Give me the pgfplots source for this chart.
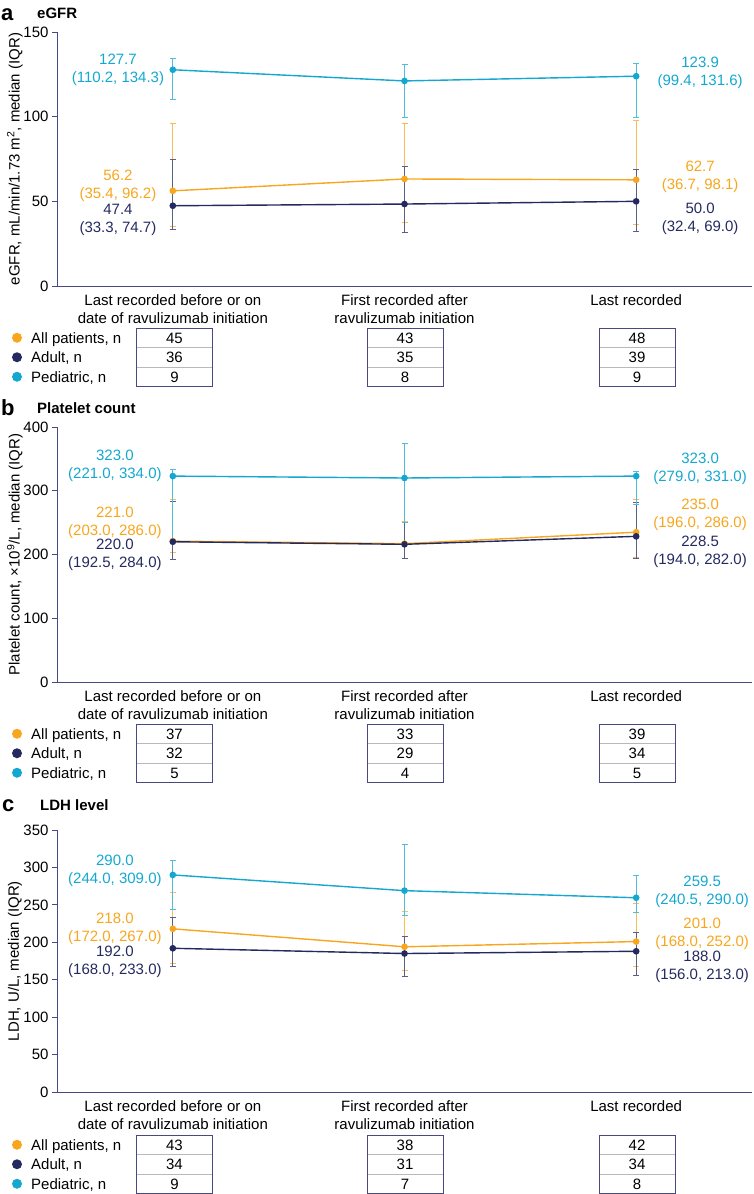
\documentclass[border=0pt]{standalone}
\usepackage{pgfplots}
\pgfplotsset{compat=1.18}
\usepackage{fontspec}
\setmainfont{Liberation Sans}
\definecolor{cOr}{RGB}{247,166,30}
\definecolor{cNv}{RGB}{36,42,96}
\definecolor{cCy}{RGB}{20,168,208}
\definecolor{axc}{RGB}{72,72,130}
\newcommand{\fs}{\fontsize{15}{18}\selectfont}

\tikzset{lab/.style={align=center, font=\fs, inner sep=0pt, text=#1}}
\pgfplotsset{
 panel/.style={
  scale only axis, width=695pt, xmin=-0.5, xmax=2.5, ymin=0, clip=false,
  axis lines=left, axis line style={-, draw=axc, line width=0.8pt},
  xtick={0,1,2},
  xticklabels={{Last recorded before or on\\date of ravulizumab initiation},{First recorded after\\ravulizumab initiation},{Last recorded}},
  xticklabel style={align=center, font=\fs, text=black},
  xtick style={draw=none},
  yticklabel style={font=\fs},
  ytick style={draw=axc, line width=0.8pt},
  tick align=outside, major tick length=5pt,
  /pgf/number format/assume math mode=true,
  ylabel style={font=\fs, at={(axis description cs:-0.0605,0.5)}, anchor=center},
 },
 ser/.style={color=#1, line width=1.4pt, mark=*, mark size=2.6pt, mark options={solid, fill=#1},
   error bars/y dir=both, error bars/y explicit,
   error bars/error mark=-,
   error bars/error bar style={draw=#1!75, line width=0.7pt},
   error bars/error mark options={rotate=90, draw=#1!75, line width=0.7pt, mark size=3pt}},
 table/errtab/.style={x=x, y=med, y error plus expr=\thisrow{q3}-\thisrow{med}, y error minus expr=\thisrow{med}-\thisrow{q1}, row sep=\\},
}

\newcommand{\ntab}[2]{%
\begin{scope}[x=1pt,y=-1pt,shift={(0,#1)}]
 \foreach \lab/\col [count=\i] in {All patients/cOr, Adult/cNv, Pediatric/cCy} {
   \fill[\col] (17, \i*19.5-9.75) circle (5pt);
   \node[anchor=west, font=\fs, inner sep=0pt, text height=10.7pt, text depth=0pt] at (31, \i*19.5-9.75) {\lab, n};
 }
 \foreach \cx/\va/\vb/\vc in {#2} {
   \draw[gray!55, line width=0.9pt] (\cx-38, 19.5) -- (\cx+38, 19.5) (\cx-38,39) -- (\cx+38,39);
   \draw[axc, line width=0.9pt] (\cx-38,0) rectangle (\cx+38,58.5);
   \node[font=\fs, inner sep=0pt, text height=10.7pt, text depth=0pt] at (\cx, 9.75) {\va};
   \node[font=\fs, inner sep=0pt, text height=10.7pt, text depth=0pt] at (\cx, 29.25) {\vb};
   \node[font=\fs, inner sep=0pt, text height=10.7pt, text depth=0pt] at (\cx, 48.75) {\vc};
 }
\end{scope}}

\begin{document}
\begin{tikzpicture}
\useasboundingbox (0,0) rectangle (754pt,-1194pt);

% ---------- panel a ----------
\node[anchor=base west, font=\bfseries\fontsize{22}{24}\selectfont, inner sep=0pt] at (1pt,-20pt) {a};
\node[anchor=base west, font=\bfseries\fontsize{15}{17}\selectfont, inner sep=0pt] at (37pt,-18pt) {eGFR};
\begin{axis}[panel, at={(57pt,-286pt)}, height=254pt, ymax=150, ytick={0,50,100,150},
  ylabel={eGFR, mL/min/1.73 m\textsuperscript{2}, median (IQR)}]
\addplot[ser=cOr] table[errtab] {x med q1 q3\\ 0 56.2 35.4 96.2\\ 1 63.2 37.8 96.0\\ 2 62.7 36.7 98.1\\};
\addplot[ser=cNv] table[errtab] {x med q1 q3\\ 0 47.4 33.3 74.7\\ 1 48.4 31.9 70.9\\ 2 50.0 32.4 69.0\\};
\addplot[ser=cCy] table[errtab] {x med q1 q3\\ 0 127.7 110.2 134.3\\ 1 121.1 99.8 131.1\\ 2 123.9 99.4 131.6\\};
\node[lab=cCy] at (axis cs:-0.237,127.6) {127.7\\(110.2, 134.3)};
\node[lab=cOr] at (axis cs:-0.237,59) {56.2\\(35.4, 96.2)};
\node[lab=cNv] at (axis cs:-0.237,39.3) {47.4\\(33.3, 74.7)};
\node[lab=cCy] at (axis cs:2.276,125.8) {123.9\\(99.4, 131.6)};
\node[lab=cOr] at (axis cs:2.276,64.4) {62.7\\(36.7, 98.1)};
\node[lab=cNv] at (axis cs:2.276,39.9) {50.0\\(32.4, 69.0)};
\end{axis}
\ntab{328}{174.5/45/36/9, 405/43/35/8, 637/48/39/9}

% ---------- panel b ----------
\node[anchor=base west, font=\bfseries\fontsize{22}{24}\selectfont, inner sep=0pt] at (1pt,-415pt) {b};
\node[anchor=base west, font=\bfseries\fontsize{15}{17}\selectfont, inner sep=0pt] at (37pt,-413pt) {Platelet count};
\begin{axis}[panel, at={(57pt,-682pt)}, height=255pt, ymax=400, ytick={0,100,200,300,400},
  ylabel={Platelet count, ×10\textsuperscript{9}/L, median (IQR)}]
\addplot[ser=cOr] table[errtab] {x med q1 q3\\ 0 221.0 203.0 286.0\\ 1 217.0 194.0 252.0\\ 2 235.0 196.0 286.0\\};
\addplot[ser=cNv] table[errtab] {x med q1 q3\\ 0 220.0 192.5 284.0\\ 1 216.0 194.0 250.0\\ 2 228.5 194.0 282.0\\};
\addplot[ser=cCy] table[errtab] {x med q1 q3\\ 0 323.0 221.0 334.0\\ 1 320.0 250.0 374.0\\ 2 323.0 279.0 331.0\\};
\node[lab=cCy] at (axis cs:-0.25,338.9) {323.0\\(221.0, 334.0)};
\node[lab=cOr] at (axis cs:-0.25,250.2) {221.0\\(203.0, 286.0)};
\node[lab=cNv] at (axis cs:-0.25,199.2) {220.0\\(192.5, 284.0)};
\node[lab=cCy] at (axis cs:2.276,334) {323.0\\(279.0, 331.0)};
\node[lab=cOr] at (axis cs:2.276,262) {235.0\\(196.0, 286.0)};
\node[lab=cNv] at (axis cs:2.276,204) {228.5\\(194.0, 282.0)};
\end{axis}
\ntab{724}{174.5/37/32/5, 405/33/29/4, 637/39/34/5}

% ---------- panel c ----------
\node[anchor=base west, font=\bfseries\fontsize{22}{24}\selectfont, inner sep=0pt] at (2pt,-811pt) {c};
\node[anchor=base west, font=\bfseries\fontsize{15}{17}\selectfont, inner sep=0pt] at (40pt,-810pt) {LDH level};
\begin{axis}[panel, at={(57pt,-1092pt)}, height=262pt, ymax=350, ytick={0,50,...,350},
  ylabel={LDH, U/L, median (IQR)}]
\addplot[ser=cOr] table[errtab] {x med q1 q3\\ 0 218.0 172.0 267.0\\ 1 194.0 163.0 242.0\\ 2 201.0 168.0 252.0\\};
\addplot[ser=cNv] table[errtab] {x med q1 q3\\ 0 192.0 168.0 233.0\\ 1 185.0 154.0 208.0\\ 2 188.0 156.0 213.0\\};
\addplot[ser=cCy] table[errtab] {x med q1 q3\\ 0 290.0 244.0 309.0\\ 1 269.0 236.0 331.0\\ 2 259.5 240.5 290.0\\};
\node[lab=cCy] at (axis cs:-0.25,295.2) {290.0\\(244.0, 309.0)};
\node[lab=cOr] at (axis cs:-0.25,218.4) {218.0\\(172.0, 267.0)};
\node[lab=cNv] at (axis cs:-0.25,174.3) {192.0\\(168.0, 233.0)};
\node[lab=cCy] at (axis cs:2.285,267.2) {259.5\\(240.5, 290.0)};
\node[lab=cOr] at (axis cs:2.285,211) {201.0\\(168.0, 252.0)};
\node[lab=cNv] at (axis cs:2.285,167.9) {188.0\\(156.0, 213.0)};
\end{axis}
\ntab{1135}{174.5/43/34/9, 405/38/31/7, 637/42/34/8}
\end{tikzpicture}
\end{document}
